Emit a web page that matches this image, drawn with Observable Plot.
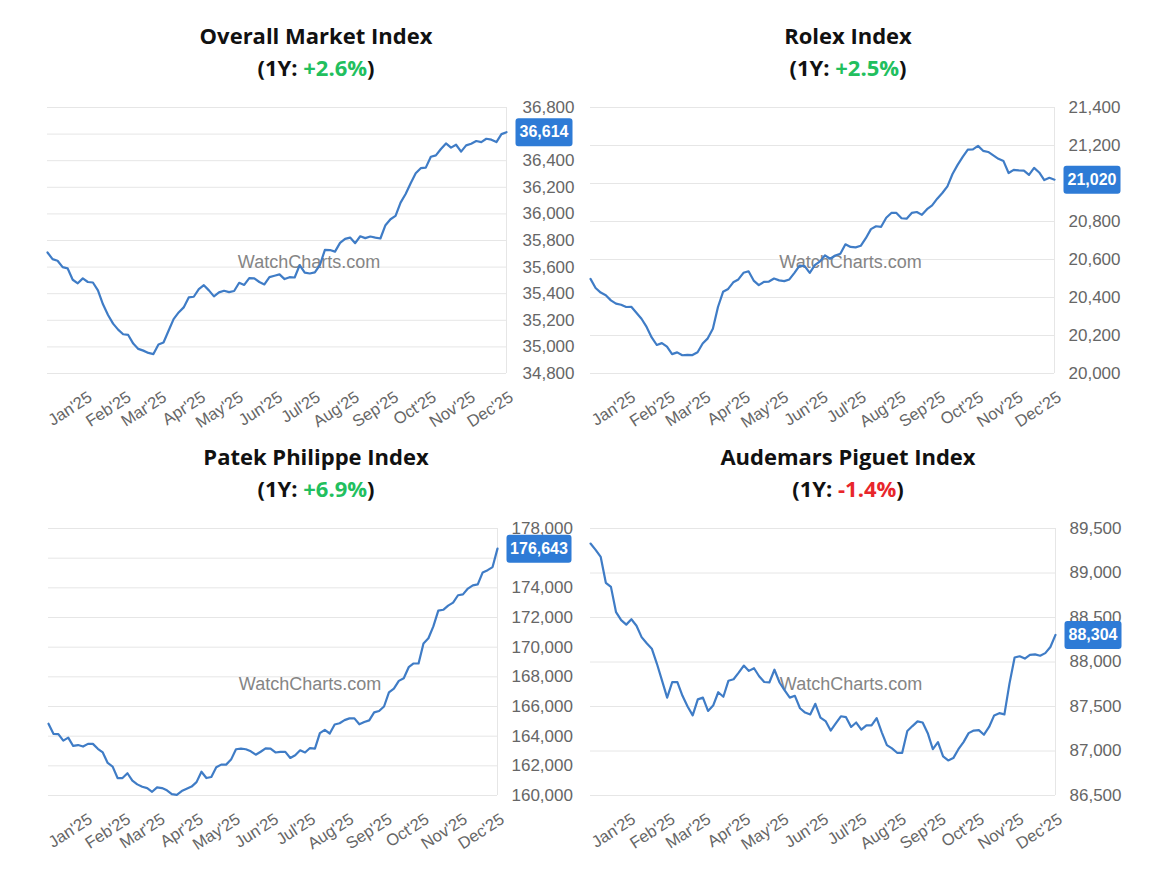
<!DOCTYPE html>
<html>
<head>
<meta charset="utf-8">
<script src="https://cdn.jsdelivr.net/npm/d3@7"></script>
<script src="https://cdn.jsdelivr.net/npm/@observablehq/plot@0.6"></script>
<style>
  html, body { margin: 0; padding: 0; background: #fff; }
  body { width: 1170px; height: 888px; position: relative; overflow: hidden; font-family: "Liberation Sans", Arial, sans-serif; }
  .title { position: absolute; width: 545px; text-align: center; font-family: "Open Sans", sans-serif; font-weight: 700; font-size: 22px; color: #111; line-height: 32px; }
  .pos { color: #22bf5e; }
  .neg { color: #e8262b; }
  .chart { position: absolute; }
  .chart svg { overflow: visible; }
</style>
</head>
<body>
<script>
// ---------- data ----------
const seriesStart = "2024-12-02";
const stepDays = 4;
const monthTicks = ["2025-01-01","2025-02-01","2025-03-01","2025-04-01","2025-05-01","2025-06-01",
                    "2025-07-01","2025-08-01","2025-09-01","2025-10-01","2025-11-01","2025-12-01"];

const titles = ["Overall Market Index", "Rolex Index", "Patek Philippe Index", "Audemars Piguet Index"];
const changes = ["+2.6%", "+2.5%", "+6.9%", "-1.4%"];

const overallValues = [
  35710,35660,35648,35600,35590,35505,35478,35515,35488,35484,
  35425,35320,35240,35175,35130,35095,35090,35025,34985,34972,
  34955,34946,35018,35033,35121,35209,35259,35297,35372,35377,
  35434,35464,35425,35380,35410,35422,35412,35420,35482,35466,
  35517,35515,35488,35470,35525,35535,35545,35510,35524,35522,
  35615,35558,35552,35560,35615,35730,35728,35716,35782,35812,
  35822,35780,35832,35818,35830,35822,35815,35915,35960,35985,
  36085,36150,36230,36305,36344,36348,36430,36440,36488,36530,
  36498,36520,36468,36515,36528,36548,36540,36565,36558,36540,
  36600,36614];
const rolexValues = [
  20498,20450,20426,20412,20385,20368,20362,20350,20351,20320,
  20288,20245,20190,20150,20160,20141,20102,20111,20096,20098,
  20097,20112,20158,20185,20235,20350,20430,20445,20480,20495,
  20530,20538,20489,20465,20482,20484,20500,20490,20486,20495,
  20530,20568,20565,20530,20570,20590,20622,20604,20621,20630,
  20680,20666,20664,20672,20712,20760,20775,20772,20820,20845,
  20845,20817,20815,20845,20850,20835,20865,20885,20920,20950,
  20985,21050,21098,21140,21178,21180,21198,21172,21166,21148,
  21130,21118,21055,21072,21069,21068,21045,21082,21058,21018,
  21030,21020];
const patekValues = [
  164836,164158,164140,163700,163900,163340,163400,163300,163481,163481,
  163150,162900,162194,161950,161178,161178,161500,161000,160750,160590,
  160500,160250,160545,160500,160350,160093,160048,160300,160450,160600,
  160900,161600,161178,161250,161900,162081,162081,162420,163120,163165,
  163120,162980,162750,162950,163180,163165,162900,162939,162939,162532,
  162713,163050,162900,163200,163165,164200,164420,164180,164790,164870,
  165080,165197,165197,164800,164950,165062,165600,165694,166000,166950,
  167207,167726,167900,168650,168900,168900,170250,170600,171400,172468,
  172520,172800,173000,173500,173560,173950,174170,174229,175040,175190,
  175400,176643];
const apValues = [
  89331,89260,89180,88890,88844,88560,88470,88420,88480,88407,
  88280,88210,88150,87980,87790,87599,87775,87775,87620,87500,
  87400,87580,87600,87450,87510,87660,87610,87790,87806,87880,
  87960,87900,87930,87840,87775,87770,87913,87770,87680,87600,
  87620,87480,87432,87411,87530,87375,87336,87230,87310,87390,
  87380,87270,87320,87240,87288,87288,87370,87210,87066,87030,
  86980,86980,87224,87280,87333,87320,87200,87020,87100,86940,
  86894,86920,87020,87100,87201,87230,87235,87183,87270,87400,
  87425,87411,87760,88050,88064,88038,88080,88085,88070,88100,
  88169,88304];

const overallTicks = [34800,35000,35200,35400,35600,35800,36000,36200,36400,36600,36800];
const rolexTicks = [20000,20200,20400,20600,20800,21000,21200,21400];
const patekTicks = [160000,162000,164000,166000,168000,170000,172000,174000,176000,178000];
const apTicks = [86500,87000,87500,88000,88500,89000,89500];

// ---------- layout ----------
const layout = [
  {left: 40,  top: 90,  titleCenter: 316, titleTop: 19,  m: [17, 79, 57, 7], boxW: 57, wmDx: 32, yPad: 16},
  {left: 583, top: 90,  titleCenter: 848, titleTop: 19,  m: [17, 74, 57, 7], boxW: 57, wmDx: 28, yPad: 14},
  {left: 40,  top: 510, titleCenter: 316, titleTop: 440, m: [18, 88, 55, 8], boxW: 65, wmDx: 37, yPad: 14},
  {left: 583, top: 510, titleCenter: 848, titleTop: 440, m: [18, 73, 55, 7], boxW: 57, wmDx: 28, yPad: 14}
];
const seriesList = [overallValues, rolexValues, patekValues, apValues];
const tickList = [overallTicks, rolexTicks, patekTicks, apTicks];

const fmt = d3.format(",");
const monthFmt = d3.utcFormat("%b'%y");
const start = new Date(seriesStart + "T00:00:00Z");
const boxH = 28;

function roundBox(w, h, r) {
  return {
    draw(ctx) {
      const x0 = -w / 2, y0 = -h / 2, x1 = w / 2, y1 = h / 2;
      ctx.moveTo(x0 + r, y0);
      ctx.lineTo(x1 - r, y0);
      ctx.arcTo(x1, y0, x1, y0 + r, r);
      ctx.lineTo(x1, y1 - r);
      ctx.arcTo(x1, y1, x1 - r, y1, r);
      ctx.lineTo(x0 + r, y1);
      ctx.arcTo(x0, y1, x0, y1 - r, r);
      ctx.lineTo(x0, y0 + r);
      ctx.arcTo(x0, y0, x0 + r, y0, r);
      ctx.closePath();
    }
  };
}

seriesList.forEach((values, k) => {
  const L = layout[k];
  const ticks = tickList[k];
  const data = values.map((v, i) => ({date: d3.utcDay.offset(start, i * stepDays), value: v}));
  const last = data[data.length - 1];
  const boxDx = 9 + L.boxW / 2;
  const lo = ticks[0], hi = ticks[ticks.length - 1];
  const plotH = 340 - L.m[0] - L.m[2];
  // tick labels that the value box fully hides are not drawn
  const labelTicks = ticks.filter(t => Math.abs(t - last.value) / (hi - lo) * plotH > 13);

  const t = document.createElement("div");
  t.className = "title";
  t.style.left = (L.titleCenter - 272.5) + "px";
  t.style.top = L.titleTop + "px";
  const cls = changes[k].startsWith("-") ? "neg" : "pos";
  t.innerHTML = `${titles[k]}<br>(1Y: <span class="${cls}">${changes[k]}</span>)`;
  document.body.appendChild(t);

  const chart = Plot.plot({
    width: 545,
    height: 340,
    marginTop: L.m[0], marginRight: L.m[1], marginBottom: L.m[2], marginLeft: L.m[3],
    style: {background: "transparent", color: "#666", fontFamily: "'Liberation Sans', Arial, sans-serif"},
    x: {type: "utc", domain: [data[0].date, last.date]},
    y: {domain: [lo, hi]},
    marks: [
      Plot.ruleY(ticks, {stroke: "#e6e6e6", strokeWidth: 1}),
      Plot.ruleX([last.date], {stroke: "#e6e6e6", strokeWidth: 1}),
      Plot.axisX(monthTicks.map(d => new Date(d + "T00:00:00Z")), {
        tickFormat: monthFmt, tickRotate: -33, tickSize: 0, tickPadding: 22, dx: 5,
        fontSize: 16.5, label: null
      }),
      Plot.axisY(labelTicks, {
        anchor: "right", tickFormat: fmt, tickSize: 0, tickPadding: L.yPad,
        fontSize: 17, label: null
      }),
      Plot.text(["WatchCharts.com"], {frameAnchor: "middle", text: d => d, dx: L.wmDx, dy: 22, fill: "#858585", fontSize: 18}),
      Plot.line(data, {x: "date", y: "value", stroke: "#3f7cc6", strokeWidth: 2.2, strokeLinejoin: "round"}),
      Plot.dot([last], {x: "date", y: "value", symbol: roundBox(L.boxW, boxH, 3), r: 10, fill: "#2e7bd6", stroke: "none", dx: boxDx}),
      Plot.text([last], {x: "date", y: "value", text: d => fmt(d.value), dx: boxDx, fill: "white", fontWeight: "bold", fontSize: 16})
    ]
  });

  const wrap = document.createElement("div");
  wrap.className = "chart";
  wrap.style.left = L.left + "px";
  wrap.style.top = L.top + "px";
  wrap.appendChild(chart);
  document.body.appendChild(wrap);
});
</script>
</body>
</html>
